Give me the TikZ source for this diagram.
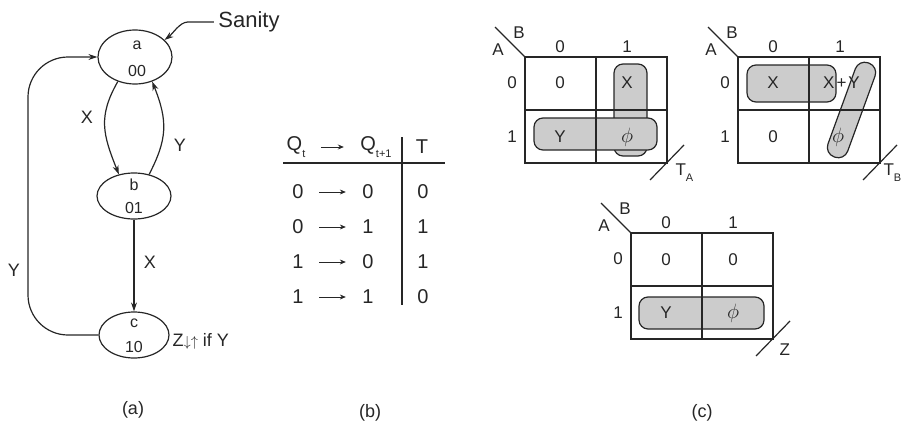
\documentclass[tikz,border=0pt]{standalone}
\usepackage{fontspec}
\setmainfont{Liberation Sans}
\usetikzlibrary{arrows.meta,shapes.geometric,positioning}
\newcommand{\lowsub}[1]{\raisebox{-0.38em}{\fontsize{11}{11}\selectfont #1}}

\begin{document}
\begin{tikzpicture}[x=1pt, y=-1pt, line width=1.2pt, black!85,
        >={Stealth[length=9pt,width=6pt]},
        state/.style={ellipse, draw, minimum width=74pt, inner sep=0pt},
        statetxt/.style={font=\fontsize{16}{16}\selectfont, inner sep=0pt},
        lbl/.style={font=\fontsize{18}{18}\selectfont, inner sep=0pt},
        tbl/.style={font=\fontsize{20}{20}\selectfont, inner sep=0pt},
        tblarrow/.style={-{Stealth[length=6pt,width=5pt]}, line width=0.9pt, shorten <=15pt, shorten >=16pt},
        kmap/.style={font=\fontsize{17}{17}\selectfont, inner sep=0pt},
        kphi/.style={font=\fontsize{21}{21}\selectfont, inner sep=0pt},
        kloop/.style={draw, fill=black!20, rounded corners=9pt}]
    \useasboundingbox (0,0) rectangle (901,428);
    \clip (0,0) rectangle (901,428);
    % (a) state diagram
    \node[state, minimum height=54pt] (a) at (135,57) {};
    \node[statetxt] (a-name) at (137,45) {a};
    \node[statetxt] (a-code) at (137,71) {00};
    \node[state, minimum height=46pt] (b) at (134,196) {};
    \node[statetxt] (b-name) at (134,185) {b};
    \node[statetxt] (b-code) at (134,208) {01};
    \node[state, minimum width=70pt, minimum height=46pt] (c) at (134,335) {};
    \node[statetxt] (c-name) at (134,323) {c};
    \node[statetxt] (c-code) at (134,347) {10};
    \node[font=\fontsize{22}{22}\selectfont, inner sep=0pt] (sanity) at (249,22) {Sanity};
    \draw[->] (sanity.west) ++(-4,0) -- ++(-26,0) .. controls +(-8,0) and +(8,-6) .. (a.30);
    \draw[->] (a.235) .. controls +(-20,35) and +(-16,-40) .. (b.125);
    \node[lbl] (x-ab) at (87,117) {X};
    \draw[->] (b.55) .. controls +(18,-35) and +(16,40) .. (a.305);
    \node[lbl] (y-ba) at (180,145) {Y};
    \draw[->] (b) -- (c);
    \node[lbl] (x-bc) at (150,262) {X};
    \coordinate (yleft) at (28,200);
    \draw[->, rounded corners=40pt] (c.west) -| (yleft) |- (a.west);
    \node[lbl] (y-ca) at (14,270) {Y};
    \node[lbl, anchor=west] (zout) at (172,341) {Z{\fontsize{15}{15}\selectfont$\downarrow\uparrow$} if Y};
    \node[lbl] (cap-a) at (133,410) {(a)};
    % (b) T flip-flop excitation table
    \node[tbl] (hq) at (296,147) {Q\lowsub{t}};
    \node[tbl] (hp) at (376,147) {Q\lowsub{t+1}};
    \node[tbl] (ht) at (422,147) {T};
    \draw[tblarrow] (hq) -- (hp);
    \foreach \q/\p/\t [count=\i] in {0/0/0, 0/1/1, 1/0/1, 1/1/0} {
            \node[tbl] (q\i) at (298,{157+35*\i}) {\q};
            \node[tbl] (p\i) at (368,{157+35*\i}) {\p};
            \node[tbl] (t\i) at (423,{157+35*\i}) {\t};
            \draw[tblarrow] (q\i) -- (p\i);
        }
    \draw (283,163) -- (445,163);
    \draw (402,137) -- (402,305);
    \node[lbl] (cap-b) at (370,413) {(b)};
    % (c) K-maps: loops first, grid on top
    \begin{scope}[shift={(525,57)}]
        \draw[kloop] (89,7) rectangle (122,99);
        \draw[kloop] (9,61) rectangle (132,93);
    \end{scope}
    \begin{scope}[shift={(738,57)}]
        \draw[kloop] (9,8) rectangle (98,45);
        \node[kloop, minimum width=21pt, minimum height=100pt, rounded corners=10pt, rotate=-20] (tb-diag) at (113.5,53) {};
    \end{scope}
    \begin{scope}[shift={(631,233)}]
        \draw[kloop] (8,64) rectangle (133,96);
    \end{scope}
    \foreach \ox/\oy/\m in {525/57/ta, 738/57/tb, 631/233/z} {
            \begin{scope}[shift={(\ox,\oy)}]
                \draw (0,0) rectangle (142,106);
                \draw (71,0) -- (71,106) (0,53) -- (142,53);
                \draw (-30,-30) -- (0,0);
                \draw (125,123) -- (159,88);
                \node[kmap] (\m-a) at (-27,-7) {A};
                \node[kmap] (\m-b) at (-6,-24) {B};
                \node[kmap] (\m-c0) at (35,-10) {0};
                \node[kmap] (\m-c1) at (102,-10) {1};
                \node[kmap] (\m-r0) at (-13,26) {0};
                \node[kmap] (\m-r1) at (-13,80) {1};
            \end{scope}
        }
    % cell entries
    \begin{scope}[shift={(525,57)}]
        \node[kmap] (ta-00) at (35,26) {0};
        \node[kmap] (ta-01) at (102,26) {X};
        \node[kmap] (ta-10) at (35,80) {Y};
        \node[kphi] (ta-11) at (102,80) {$\phi$};
        \node[kmap, anchor=base west] (ta-out) at (150,118) {T\lowsub{A}};
    \end{scope}
    \begin{scope}[shift={(738,57)}]
        \node[kmap] (tb-00) at (35,26) {X};
        \node[kmap] (tb-01) at (103.5,26) {X\hspace{2pt}+\hspace{2pt}Y};
        \node[kmap] (tb-10) at (35,80) {0};
        \node[kphi] (tb-11) at (100,80) {$\phi$};
        \node[kmap, anchor=base west] (tb-out) at (145,118) {T\lowsub{B}};
    \end{scope}
    \begin{scope}[shift={(631,233)}]
        \node[kmap] (z-00) at (35,27) {0};
        \node[kmap] (z-01) at (102,27) {0};
        \node[kmap] (z-10) at (35,80) {Y};
        \node[kphi] (z-11) at (102,80) {$\phi$};
        \node[kmap, anchor=base west] (z-out) at (148,122) {Z};
    \end{scope}
    \node[lbl] (cap-c) at (702,413) {(c)};
\end{tikzpicture}
\end{document}
